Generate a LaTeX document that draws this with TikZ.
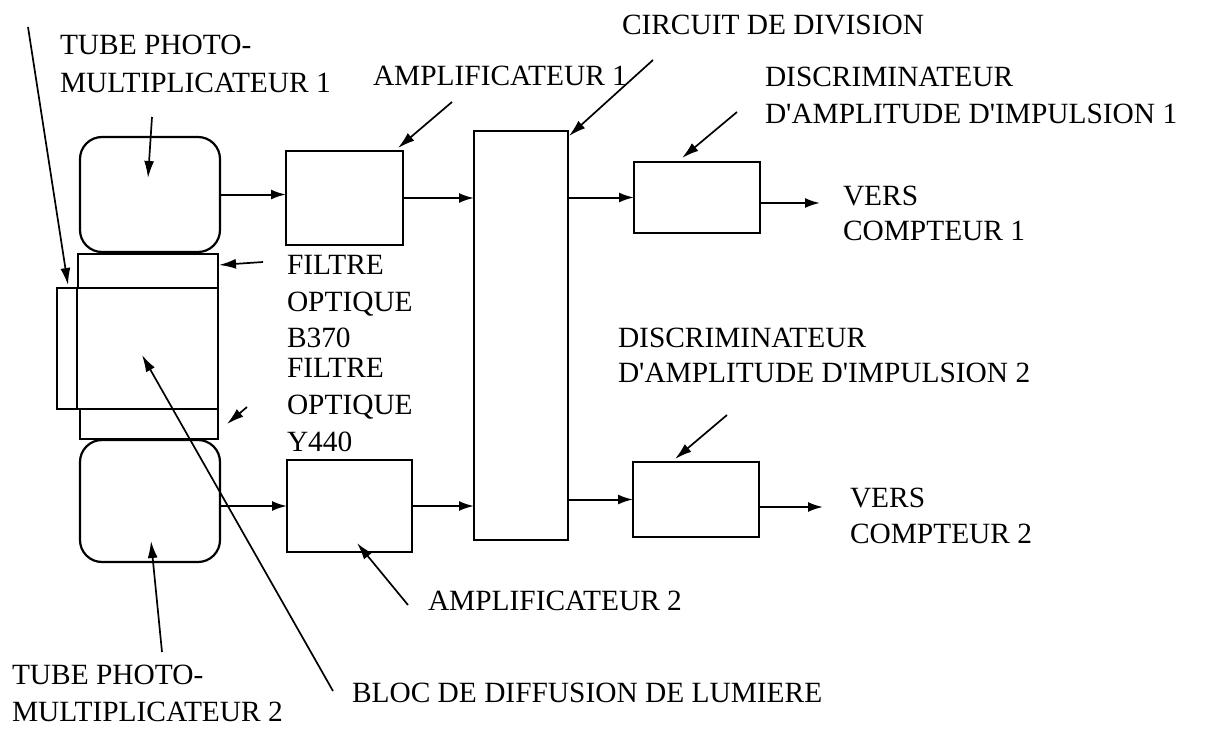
\documentclass[tikz,border=0pt]{standalone}
\usepackage{fontspec}
\setmainfont{Liberation Serif}[Ligatures=TeXOff]
\usetikzlibrary{arrows.meta,calc}
\begin{document}
\begin{tikzpicture}[x=1bp,y=-1bp,
  box/.style={draw, line width=2.2bp, inner sep=0pt, outer sep=0pt},
  tube/.style={box, rounded corners=22bp},
  arr/.style={line width=2bp, -{Latex[length=15bp,width=10bp]}},
  lead/.style={line width=1.7bp, -{Latex[length=17bp,width=10bp]}},
  lbl/.style={anchor=base west, inner sep=0pt, outer sep=0pt, font=\fontsize{29.5}{35}\selectfont},
]
\useasboundingbox (0,0) rectangle (1205,738);
% blocks
\node[tube, minimum width=140bp, minimum height=115bp] (pmt1) at (150,194.5) {};
\node[box, minimum width=140bp, minimum height=34bp] (fB) at (148,271) {};
\node[box, minimum width=161bp, minimum height=121bp] (diff) at (137.5,348.5) {};
\draw[line width=2.2bp] ([xshift=20bp]diff.north west) -- ([xshift=20bp]diff.south west);
\node[box, minimum width=138bp, minimum height=30bp] (fY) at (149,424) {};
\node[tube, minimum width=140bp, minimum height=122bp] (pmt2) at (150,501) {};
\node[box, minimum width=117bp, minimum height=94bp] (amp1) at (344.5,198) {};
\node[box, minimum width=125bp, minimum height=92bp] (amp2) at (349.5,506) {};
\node[box, minimum width=94bp, minimum height=409bp] (div) at (521,335.5) {};
\node[box, minimum width=126bp, minimum height=71bp] (disc1) at (697,197.5) {};
\node[box, minimum width=126bp, minimum height=75bp] (disc2) at (696,499.5) {};
% signal arrows
\coordinate (o1) at (820,203);
\coordinate (o2) at (823,507);
\draw[arr] (pmt1.east) -- (pmt1.east -| amp1.west);
\draw[arr] (amp1.east) -- (amp1.east -| div.west);
\draw[arr] (disc1.west -| div.east) -- (disc1.west);
\draw[arr] (disc1.east |- o1) -- (o1);
\draw[arr] (amp2.west -| pmt2.east) -- (amp2.west);
\draw[arr] (amp2.east) -- (amp2.east -| div.west);
\draw[arr] (disc2.west -| div.east) -- (disc2.west);
\draw[arr] (disc2.east |- o2) -- (o2);
% labels
\node[lbl] (t1a) at (60,55) {TUBE PHOTO-};
\node[lbl] (t1b) at (60,93) {MULTIPLICATEUR 1};
\node[lbl] (a1) at (373,86) {AMPLIFICATEUR 1};
\node[lbl] (cd) at (622,35) {CIRCUIT DE DIVISION};
\node[lbl] (d1a) at (765,87) {DISCRIMINATEUR};
\node[lbl] (d1b) at (765,123) {D'AMPLITUDE D'IMPULSION 1};
\node[lbl] (v1a) at (843,205) {VERS};
\node[lbl] (v1b) at (843,240) {COMPTEUR 1};
\node[lbl] (fb1) at (287,274) {FILTRE};
\node[lbl] (fb2) at (287,311) {OPTIQUE};
\node[lbl] (fb3) at (287,347) {B370};
\node[lbl] (fy1) at (287,377) {FILTRE};
\node[lbl] (fy2) at (287,414) {OPTIQUE};
\node[lbl] (fy3) at (287,451) {Y440};
\node[lbl] (d2a) at (618,347) {DISCRIMINATEUR};
\node[lbl] (d2b) at (618,382) {D'AMPLITUDE D'IMPULSION 2};
\node[lbl] (v2a) at (850,507) {VERS};
\node[lbl] (v2b) at (850,543) {COMPTEUR 2};
\node[lbl] (a2) at (428,610) {AMPLIFICATEUR 2};
\node[lbl] (bl) at (352,702) {BLOC DE DIFFUSION DE LUMIERE};
\node[lbl] (t2a) at (12,684) {TUBE PHOTO-};
\node[lbl] (t2b) at (12,721) {MULTIPLICATEUR 2};
% leaders
\coordinate (L1s) at (152,117);  \coordinate (L1e) at (148,178);
\coordinate (L2s) at (28,27);    \coordinate (L2e) at (68,285);
\coordinate (L3s) at (263,262);  \coordinate (L3e) at (219,265);
\coordinate (L4s) at (247,407);  \coordinate (L4e) at (227,424);
\coordinate (L5s) at (452,102);  \coordinate (L5e) at (398,148);
\coordinate (L6s) at (653,60);   \coordinate (L6e) at (569,136);
\coordinate (L7s) at (737,112);  \coordinate (L7e) at (682,158);
\coordinate (L8s) at (727,415);  \coordinate (L8e) at (675,459);
\coordinate (L9s) at (408,605);  \coordinate (L9e) at (357,543);
\coordinate (L10s) at (333,691); \coordinate (L10e) at (142,355);
\coordinate (L11s) at (162,652); \coordinate (L11e) at (151,541);
\draw[lead] (L1s) -- (L1e);
\draw[lead] (L2s) -- (L2e);
\draw[lead] (L3s) -- (L3e);
\draw[lead] (L4s) -- (L4e);
\draw[lead] (L5s) -- (L5e);
\draw[lead] (L6s) -- (L6e);
\draw[lead] (L7s) -- (L7e);
\draw[lead] (L8s) -- (L8e);
\draw[lead] (L9s) -- (L9e);
\draw[lead] (L10s) -- (L10e);
\draw[lead] (L11s) -- (L11e);
\end{tikzpicture}
\end{document}
